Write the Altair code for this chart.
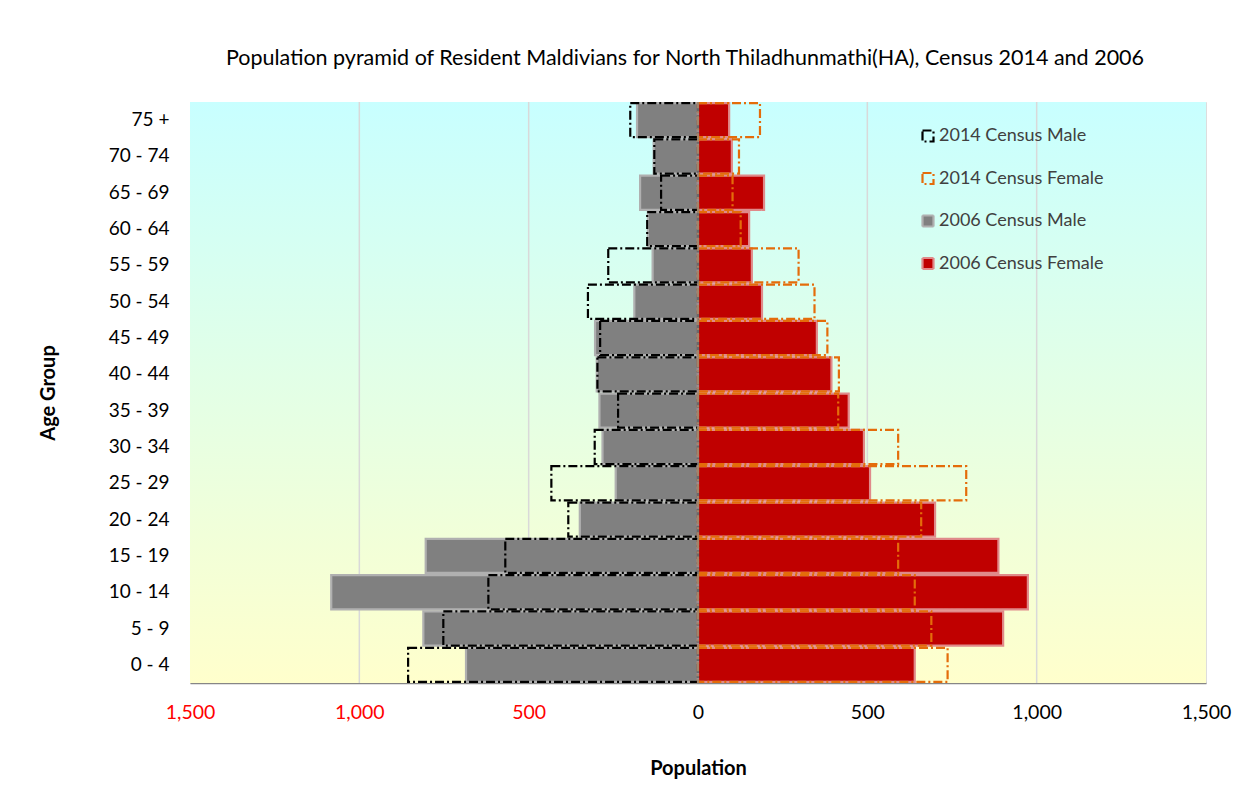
import altair as alt
import pandas as pd

# ---------------- data ----------------
age_groups = ["0 - 4", "5 - 9", "10 - 14", "15 - 19", "20 - 24", "25 - 29",
              "30 - 34", "35 - 39", "40 - 44", "45 - 49", "50 - 54", "55 - 59",
              "60 - 64", "65 - 69", "70 - 74", "75 +"]
male_2006 = [685, 811, 1083, 804, 349, 243, 282, 291, 299, 304, 188, 134, 148, 171, 131, 180]
female_2006 = [640, 901, 974, 887, 700, 508, 490, 445, 394, 351, 189, 159, 151, 195, 100, 92]
male_2014 = [856, 752, 619, 569, 383, 433, 305, 236, 297, 289, 325, 265, 150, 109, 129, 200]
female_2014 = [737, 689, 640, 591, 659, 792, 591, 414, 416, 382, 344, 297, 126, 102, 121, 183]

series_names = ["2014 Census Male", "2014 Census Female", "2006 Census Male", "2006 Census Female"]
x_ticks = [-1500, -1000, -500, 0, 500, 1000, 1500]
grid_ticks = [-1000, -500, 500, 1000]

rows = []
for name, vals, sign in [("2006 Census Male", male_2006, -1),
                         ("2006 Census Female", female_2006, 1),
                         ("2014 Census Male", male_2014, -1),
                         ("2014 Census Female", female_2014, 1)]:
    for a, v in zip(age_groups, vals):
        rows.append({"age": a, "value": sign * v, "series": name})
df = pd.DataFrame(rows)

# ---------------- style ----------------
W, H = 1016, 581
FONT = "Lato"
x_scale = alt.Scale(domain=[-1500, 1500], nice=False, zero=False)
y_scale = alt.Scale(domain=age_groups[::-1], paddingInner=0.06, paddingOuter=0.03)

x_axis = alt.Axis(values=x_ticks, grid=False, ticks=False, labelFlush=False,
                  labelExpr="format(abs(datum.value), ',')",
                  labelColor={"condition": {"test": "datum.value < 0", "value": "#FF0000"},
                              "value": "#000000"},
                  labelFont=FONT, labelFontSize=19.5, labelPadding=20,
                  domainColor="#868686", domainWidth=1.5,
                  title="Population", titleFont=FONT, titleFontSize=20,
                  titleFontWeight="bold", titleColor="#000000", titlePadding=37)

gradient = alt.Gradient(
    gradient="linear",
    stops=[alt.GradientStop(color="#C8FFFF", offset=0),
           alt.GradientStop(color="#FFFFCC", offset=1)],
    x1=0, x2=0, y1=0, y2=1,
)

background = alt.Chart(alt.Data(values=[{"k": 1}])).mark_rect(
    fill=gradient, strokeWidth=0
).encode(x=alt.value(0), x2=alt.value(W), y=alt.value(0), y2=alt.value(H))

grid = alt.Chart(pd.DataFrame({"value": grid_ticks})).mark_rule(
    color="#D9D9D9", strokeWidth=1.5
).encode(x=alt.X("value:Q", scale=x_scale, axis=x_axis))

legend = alt.Legend(
    title=None, orient="none", legendX=729, legendY=25,
    symbolType="square", symbolSize=121, symbolStrokeWidth=2,
    labelFont=FONT, labelFontSize=18, labelColor="#404040", labelLimit=400,
    rowPadding=22.5, labelOffset=2, padding=0,
)

bars = alt.Chart(df).mark_bar().encode(
    x=alt.X("value:Q", stack=None, scale=x_scale, axis=x_axis),
    y=alt.Y("age:N", scale=y_scale,
            axis=alt.Axis(ticks=False, domain=False, labelPadding=21,
                          labelFont=FONT, labelFontSize=19, labelColor="#000000",
                          title="Age Group", titleFont=FONT, titleFontSize=20,
                          titleFontWeight="bold", titleColor="#000000", titlePadding=50)),
    fill=alt.Fill("series:N",
                  scale=alt.Scale(domain=series_names,
                                  range=["transparent", "transparent", "#808080", "#C00000"]),
                  legend=legend),
    stroke=alt.Stroke("series:N",
                      scale=alt.Scale(domain=series_names,
                                      range=["#000000", "#E46C0A", "#B0B0B0", "#E08A8A"]),
                      legend=legend),
    strokeDash=alt.StrokeDash("series:N",
                              scale=alt.Scale(domain=series_names,
                                              range=[[9, 3, 2, 3], [9, 3, 2, 3], [1, 0], [1, 0]]),
                              legend=legend),
    strokeWidth=alt.StrokeWidth("series:N",
                                scale=alt.Scale(domain=series_names, range=[2.2, 2.2, 1, 1]),
                                legend=None),
)

zero = alt.Chart(pd.DataFrame({"value": [0]})).mark_rule(
    color="#8C8C8C", strokeWidth=1.5
).encode(x=alt.X("value:Q", scale=x_scale, axis=x_axis))

chart = alt.layer(background, grid, bars, zero).properties(
    width=W, height=H,
    padding={"left": 30, "top": 39, "right": 5, "bottom": 5},
    title=alt.TitleParams(
        text="Population pyramid of Resident Maldivians for North Thiladhunmathi(HA), Census 2014 and 2006",
        font=FONT, fontSize=21.5, fontWeight="normal", color="#000000",
        anchor="middle", offset=32, dx=-13),
).configure_view(stroke="#868686", strokeWidth=1).configure(background="#FFFFFF")

chart.save("out.html", embed_options={"renderer": "svg", "actions": False})
